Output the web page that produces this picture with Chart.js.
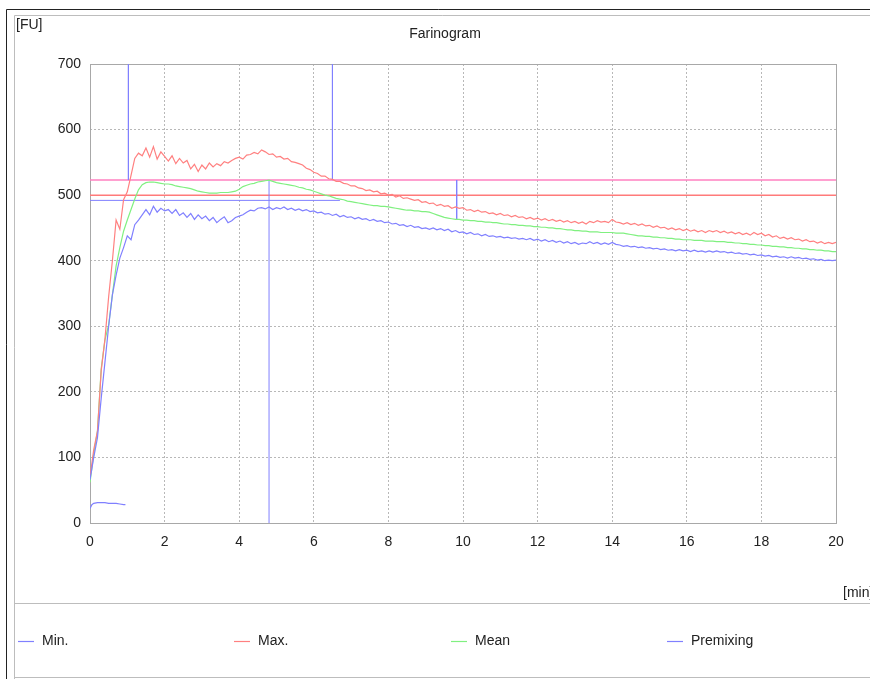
<!DOCTYPE html>
<html>
<head>
<meta charset="utf-8">
<title>Farinogram</title>
<script src="https://cdn.jsdelivr.net/npm/chart.js@4.4.1/dist/chart.umd.min.js"></script>
<style>
html, body { margin: 0; padding: 0; background: #fff; }
#wrap { position: relative; width: 870px; height: 679px; }
</style>
</head>
<body>
<div id="wrap"><canvas id="farinogram" width="870" height="679"></canvas></div>
<script>
// one reading every 0.1 min, from 0 to 20 min
var timeStep = 0.1;

var maxValues = [
	70, 112, 140, 232, 280, 345, 400, 462, 448, 493,
	505, 530, 556, 564, 560, 572, 558, 574, 555, 566,
	559, 552, 560, 548, 556, 549, 553, 540, 547, 536,
	546, 540, 549, 543, 548, 545, 551, 549, 553, 556,
	558, 555, 561, 562, 565, 563, 569, 566, 562, 563,
	558, 559, 555, 556, 551, 550, 548, 546, 541, 539,
	535, 533, 529, 529, 525, 524, 521, 521, 518, 517,
	514, 514, 511, 510, 507, 508, 505, 506, 502, 503,
	500, 501, 497, 499, 495, 496, 494, 492, 493, 489,
	490, 487, 488, 484, 486, 483, 484, 480, 482, 480,
	481, 477, 478, 475, 477, 474, 475, 472, 473, 470,
	472, 469, 470, 467, 469, 466, 467, 464, 466, 463,
	465, 462, 464, 461, 463, 460, 462, 459, 461, 458,
	460, 457, 459, 456, 460, 458, 461, 459, 460, 458,
	463, 459, 458, 456, 458, 455, 457, 454, 456, 453,
	454, 451, 453, 450, 451, 448, 450, 447, 449, 446,
	448, 445, 447, 444, 446, 443, 446, 444, 446, 443,
	445, 442, 444, 441, 443, 440, 442, 439, 443, 440,
	442, 438, 440, 436, 438, 434, 436, 433, 435, 432,
	433, 430, 432, 429, 430, 427, 429, 426, 428, 426,
	428
];

var meanValues = [
	62, 105, 140, 235, 279, 302, 348, 392, 420, 445,
	462, 478, 494, 508, 516, 519, 520, 520, 519, 518,
	517, 517, 516, 514, 513, 512, 511, 510, 508, 506,
	505, 504, 503, 503, 503, 504, 504, 504, 505, 506,
	509, 513, 515, 517, 518, 520, 521, 522, 523, 521,
	519, 518, 517, 516, 515, 514, 512, 511, 509, 508,
	506, 504, 502, 500, 499, 497, 495, 494, 493, 491,
	490, 489, 488, 487, 486, 485, 484, 484, 483, 483,
	482, 481, 480, 479, 478, 477, 477, 476, 476, 475,
	475, 474, 472, 470, 468, 466, 465, 464, 463, 463,
	462, 462, 461, 461, 460, 460, 459, 459, 458, 458,
	457, 456, 456, 455, 455, 454, 454, 453, 453, 452,
	452, 451, 451, 450, 450, 449, 449, 448, 447, 447,
	446, 446, 445, 445, 444, 444, 444, 443, 443, 443,
	443, 442, 442, 442, 441, 440, 439, 438, 438, 437,
	437, 436, 436, 435, 435, 434, 434, 433, 433, 432,
	432, 432, 431, 431, 431, 430, 430, 430, 429, 429,
	429, 428, 428, 427, 427, 426, 426, 425, 425, 424,
	424, 423, 423, 422, 422, 421, 421, 420, 420, 419,
	419, 418, 418, 417, 417, 416, 416, 415, 415, 414,
	414
];

var minValues = [
	66, 100, 130, 190, 245, 300, 348, 378, 404, 420,
	438, 432, 455, 462, 470, 478, 470, 483, 474, 480,
	476, 478, 472, 478, 469, 473, 466, 472, 463, 470,
	464, 468, 461, 466, 458, 463, 467, 458, 461, 466,
	468, 470, 474, 477, 476, 480, 481, 479, 482, 478,
	481, 479, 482, 478, 480, 477, 479, 476, 478, 475,
	476, 473, 474, 471, 472, 469, 471, 467, 469, 466,
	467, 464, 466, 463, 464, 461, 463, 460, 461, 458,
	459, 456, 457, 454, 455, 452, 454, 451, 452, 449,
	450, 448, 450, 447, 449, 446, 448, 444, 446, 443,
	444, 441, 443, 440, 441, 438, 440, 437, 438, 436,
	437, 435, 436, 434, 435, 433, 434, 432, 434, 431,
	433, 430, 432, 429, 431, 428, 430, 427, 429, 426,
	428, 425, 427, 426, 429, 426, 428, 425, 427, 425,
	428, 425, 424, 422, 423, 421, 422, 420, 421, 419,
	420, 418, 419, 417, 418, 416, 417, 415, 417, 415,
	416, 414, 416, 414, 415, 413, 415, 413, 415, 413,
	414, 412, 413, 411, 412, 410, 411, 409, 410, 408,
	409, 407, 408, 406, 407, 405, 406, 404, 406, 404,
	405, 403, 404, 402, 403, 401, 402, 400, 401, 400,
	401
];

var premixTimes = [0, 0.05, 0.1, 0.2, 0.3, 0.4, 0.5, 0.6, 0.7, 0.8, 0.9, 0.95];
var premixValues = [22, 28, 30, 31, 31, 31, 30, 30, 30, 29, 28, 28];

// evaluation lines: [start, end] in minutes and FU
var markerTimes = [[1.03, 1.03], [6.5, 6.5], [4.8, 4.8], [9.83, 9.83], [0, 20], [0, 20], [0, 6.7]];
var markerValues = [[700, 523], [700, 523], [0, 523], [523, 463], [523, 523], [500, 500], [492, 492]];
var markerColors = ['#8080ff', '#8080ff', '#8080ff', '#8080ff', '#ff80c0', '#ff7a7a', '#8080ff'];

var legendLabels = ['Min.', 'Max.', 'Mean', 'Premixing'];

var minBlue = '#8080ff';
var maxRed = '#ff8080';
var meanGreen = '#80f080';
var legendColors = [minBlue, maxRed, meanGreen, minBlue];

function toPoints(values) {
	return values.map(function (v, i) {
		return { x: Math.round(i * timeStep * 10) / 10, y: v };
	});
}

var datasets = [
	{ label: 'Premixing', data: premixTimes.map(function (t, i) { return { x: t, y: premixValues[i] }; }), borderColor: minBlue },
	{ label: 'Min.', data: toPoints(minValues), borderColor: minBlue },
	{ label: 'Max.', data: toPoints(maxValues), borderColor: maxRed },
	{ label: 'Mean', data: toPoints(meanValues), borderColor: meanGreen }
];
markerTimes.forEach(function (t, i) {
	datasets.push({
		label: '',
		data: [{ x: t[0], y: markerValues[i][0] }, { x: t[1], y: markerValues[i][1] }],
		borderColor: markerColors[i],
		borderWidth: i >= 4 && i <= 5 ? 1.5 : 1
	});
});

var font = '"Liberation Sans", Arial, sans-serif';

// frame, header texts and the legend strip
var framePlugin = {
	id: 'frame',
	beforeDraw: function (chart) {
		var c = chart.ctx;
		c.save();
		c.fillStyle = '#fff';
		c.fillRect(0, 0, chart.width, chart.height);
		c.lineWidth = 1;
		c.strokeStyle = '#222';
		c.beginPath();
		c.moveTo(6.5, 679); c.lineTo(6.5, 9.5); c.lineTo(870, 9.5);
		c.stroke();
		c.strokeStyle = '#bdbdbd';
		c.beginPath();
		c.moveTo(14.5, 679); c.lineTo(14.5, 15.5); c.lineTo(870, 15.5);
		c.moveTo(14, 603.5); c.lineTo(870, 603.5);
		c.moveTo(14, 677.5); c.lineTo(870, 677.5);
		c.stroke();
		c.restore();
	},
	beforeDatasetsDraw: function (chart) {
		var a = chart.chartArea;
		var c = chart.ctx;
		c.save();
		c.strokeStyle = '#a8a8a8';
		c.lineWidth = 1;
		c.strokeRect(Math.round(a.left) + 0.5, Math.round(a.top) + 0.5, Math.round(a.right - a.left), Math.round(a.bottom - a.top));
		c.restore();
	},
	afterDraw: function (chart) {
		var c = chart.ctx;
		c.save();
		c.font = '14px ' + font;
		c.fillStyle = '#222';
		c.textBaseline = 'middle';
		c.textAlign = 'left';
		c.fillText('[FU]', 16, 25);
		c.fillText('[min]', 843, 593);
		c.textAlign = 'center';
		c.fillText('Farinogram', 445, 34);
		c.textAlign = 'left';
		var lx = [18, 234, 451, 667];
		legendLabels.forEach(function (label, i) {
			c.strokeStyle = legendColors[i];
			c.lineWidth = 1.2;
			c.beginPath();
			c.moveTo(lx[i], 641.5);
			c.lineTo(lx[i] + 16, 641.5);
			c.stroke();
			c.fillStyle = '#222';
			c.fillText(label, lx[i] + 24, 641);
		});
		c.restore();
	}
};

var ctx = document.getElementById('farinogram').getContext('2d');
var chart = new Chart(ctx, {
	type: 'line',
	data: { datasets: datasets },
	options: {
		responsive: false,
		animation: false,
		events: [],
		layout: { padding: { left: 0, right: 34, top: 64, bottom: 126 } },
		elements: {
			point: { radius: 0 },
			line: { borderWidth: 1.2, tension: 0 }
		},
		plugins: {
			legend: { display: false },
			tooltip: { enabled: false }
		},
		scales: {
			x: {
				type: 'linear',
				min: 0,
				max: 20,
				afterFit: function (scale) { scale.height = 30; },
				ticks: { stepSize: 2, color: '#222', padding: 11, font: { family: font, size: 14 } },
				grid: { color: '#b8b8b8', drawTicks: false },
				border: { display: false, dash: [2, 2] }
			},
			y: {
				min: 0,
				max: 700,
				afterFit: function (scale) { scale.width = 90; },
				ticks: { stepSize: 100, color: '#222', padding: 9, font: { family: font, size: 14 } },
				grid: { color: '#b8b8b8', drawTicks: false },
				border: { display: false, dash: [2, 2] }
			}
		}
	},
	plugins: [framePlugin]
});
</script>
</body>
</html>
